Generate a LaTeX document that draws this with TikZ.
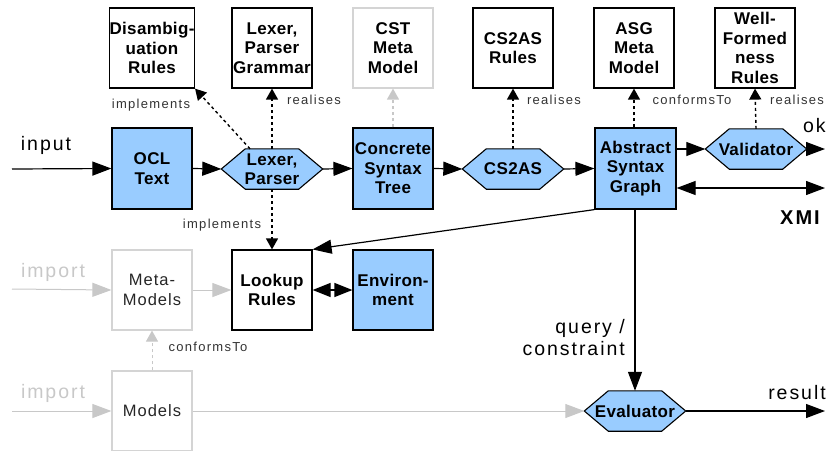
\documentclass[tikz,border=0pt]{standalone}
\usepackage{fontspec}
\setmainfont{Liberation Sans}
\newfontfamily\boxfont[LetterSpace=2]{Liberation Sans}
\newfontfamily\labfont[LetterSpace=10]{Liberation Sans}
\newfontfamily\bigfont[LetterSpace=10]{Liberation Sans}
\newfontfamily\regboxfont[LetterSpace=6]{Liberation Sans}
\usetikzlibrary{arrows.meta,backgrounds,calc}

\definecolor{procblue}{HTML}{99CCFF}
\definecolor{faintline}{HTML}{C8C8C8}
\definecolor{faintbox}{HTML}{D4D4D4}
\definecolor{labgray}{HTML}{333333}

\tikzset{
  box/.style={draw, line width=1.2pt, minimum width=80pt, minimum height=80pt,
    inner sep=0pt, align=center, font={\boxfont\bfseries\fontsize{17}{19.5}\selectfont}},
  artefact/.style={box, fill=procblue, minimum height=81pt},
  ghost/.style={box, draw=faintbox},
  ghostreg/.style={ghost, font={\regboxfont\fontsize{16.5}{19.5}\selectfont}, text=black!85},
  hexnode/.style={minimum width=101pt, minimum height=40pt, inner sep=0pt, align=center,
    font={\boxfont\bfseries\fontsize{17}{19.5}\selectfont}},
  hexline/.style={draw, line width=1.1pt, fill=procblue, line join=miter},
  bigtip/.tip={Triangle[length=19pt,width=14pt]},
  flow/.style={draw, line width=1.2pt, -bigtip},
  biflow/.style={draw, line width=1.2pt, bigtip-bigtip},
  grayflow/.style={flow, draw=faintline, line width=1pt},
  rel/.style={draw, line width=1.4pt, dash pattern=on 3pt off 3pt, -{Triangle[length=11pt,width=12pt]}},
  grayrel/.style={rel, draw=faintline},
  lab/.style={font={\labfont\fontsize{13}{15}\selectfont}, text=labgray, inner sep=0pt},
  biglab/.style={font={\bigfont\fontsize{19.5}{22}\selectfont}, inner sep=0pt},
}

\begin{document}
\begin{tikzpicture}[x=1pt,y=-1pt]
\useasboundingbox (0,0) rectangle (826,450);
\clip (0,0) rectangle (826,450);

% rule / model boxes along the top
\node[box]   (dis)  at (152,48) {Disambig-\\uation\\Rules};
\node[box]   (lpg)  at (272,48) {Lexer,\\Parser\\Grammar};
\node[ghost] (cstm) at (393,48) {CST\\Meta\\Model};
\node[box]   (c2ar) at (513,48) {CS2AS\\Rules};
\node[box]   (asgm) at (634,48) {ASG\\Meta\\Model};
\node[box]   (wfr)  at (755,48) {Well-\\Formed\\ness\\Rules};

% main processing chain
\node[artefact] (ocl) at (152,168.5) {OCL\\Text};
\node[hexnode]  (lp)  at (272,169) {Lexer,\\Parser};
\node[artefact] (cst) at (393,168.5) {Concrete\\Syntax\\Tree};
\node[hexnode]  (c2a) at (513,169) {CS2AS};
\node[artefact, minimum width=81pt] (asg) at (635.5,168.5) {Abstract\\Syntax\\Graph};
\node[hexnode]  (val) at (756,149) {Validator};

% name lookup row
\node[ghostreg] (mm)  at (152,290) {Meta-\\Models};
\node[box]      (lr)  at (272,290) {Lookup\\Rules};
\node[box, fill=procblue] (env) at (393,290) {Environ-\\ment};

% evaluation row
\node[ghostreg] (mod) at (152,411) {Models};
\node[hexnode]  (ev)  at (635,411) {Evaluator};

% hexagon outlines behind the process labels
\begin{scope}[on background layer]
  \foreach \h in {lp,c2a,val,ev}
    \path[hexline] (\h.west) -- ([xshift=24pt]\h.north west) -- ([xshift=-24pt]\h.north east)
      -- (\h.east) -- ([xshift=-24pt]\h.south east) -- ([xshift=24pt]\h.south west) -- cycle;
\end{scope}

% free ends of the external flows
\coordinate (inA)  at (12,169);
\coordinate (okE)  at (825,149);
\coordinate (xmiE) at (825,188);
\coordinate (im1)  at (12,289);
\coordinate (im2)  at (12,411);
\coordinate (resE) at (825,411);

% data flow
\draw[flow] (inA) -- (ocl.west);
\draw[flow] (ocl.east) -- (lp.west);
\draw[flow] (lp.east) -- (cst.west);
\draw[flow] (cst.east) -- (c2a.west);
\draw[flow] (c2a.east) -- (asg.west);
\draw[flow] (asg.east |- val.west) -- (val.west);
\draw[flow] (val.east) -- (okE);
\draw[biflow] ([yshift=-19.5pt]asg.east) -- (xmiE);
\draw[flow] (asg.south west) -- (lr.north east);
\draw[flow] (asg.south -| ev.north) -- (ev.north);
\draw[flow] (ev.east) -- (resE);
\draw[line width=1.2pt, {Triangle[length=18pt,width=14pt]}-{Triangle[length=18pt,width=14pt]}] (lr.east) -- (env.west);

% imported models
\draw[grayflow] (im1) -- (mm.west);
\draw[grayflow] (mm.east) -- (lr.west);
\draw[grayflow] (im2) -- (mod.west);
\draw[grayflow] (mod.east) -- (ev.west);

% realisation / conformance relations
\draw[rel] ([xshift=-22pt]lp.north) -- (dis.south east);
\draw[rel] (lp.north) -- (lpg.south);
\draw[rel] (lp.south) -- (lr.north);
\draw[grayrel] (cst.north) -- (cstm.south);
\draw[rel] (c2a.north) -- (c2ar.south);
\draw[rel] (asg.north -| asgm.south) -- (asgm.south);
\draw[rel] (val.north) -- (wfr.south);
\draw[grayrel, line width=1pt] (mod.north) -- (mm.south);

% relation labels
\node[lab] (l1) at (151,105) {implements};
\node[lab] (l2) at (314,100) {realises};
\node[lab] (l3) at (554,100) {realises};
\node[lab] (l4) at (692,100) {conformsTo};
\node[lab] (l5) at (797,100) {realises};
\node[lab] (l6) at (222,225) {implements};
\node[lab] (l7) at (208,347) {conformsTo};

% flow labels
\node[biglab] (tin) at (46,145) {input};
\node[biglab, anchor=west] (tok) at (803,126) {ok};
\node[biglab, font={\bigfont\bfseries\fontsize{20}{22}\selectfont}] (txmi) at (800,218) {XMI};
\node[biglab, text=faintline] (tim1) at (53,272) {import};
\node[biglab, text=faintline] (tim2) at (53,393) {import};
\node[biglab, anchor=east, align=right] (tq) at (625,338) {query /\\constraint};
\node[biglab] (tres) at (797,393) {result};
\end{tikzpicture}
\end{document}
